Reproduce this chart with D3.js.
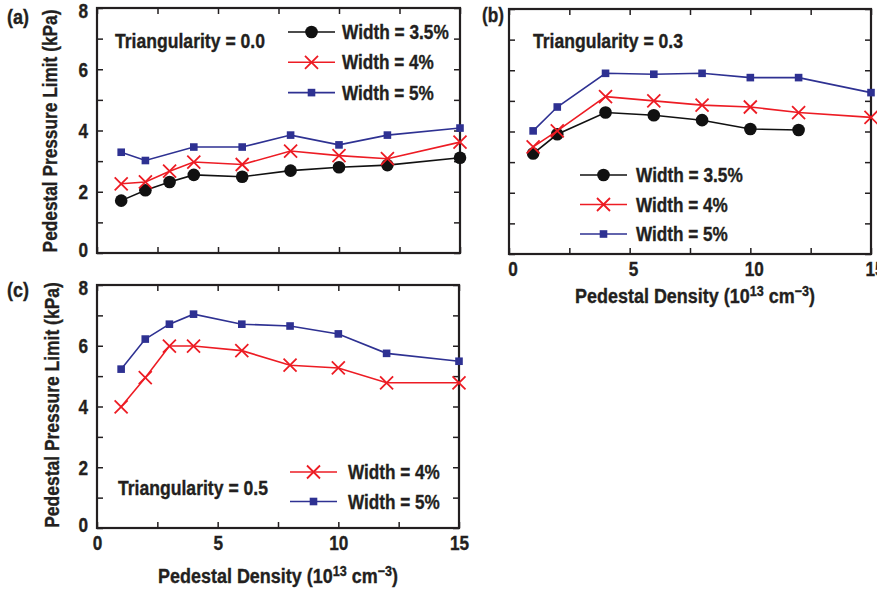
<!DOCTYPE html>
<html>
<head>
<meta charset="utf-8">
<script src="https://cdn.jsdelivr.net/npm/d3@7"></script>
<style>
  html, body { margin: 0; padding: 0; background: #fff; }
  svg { display: block; }
  text { font-family: "Liberation Sans", Arial, sans-serif; font-weight: bold; fill: #231f20; stroke: #231f20; stroke-width: 0.35px; }
</style>
</head>
<body>
<svg id="chart" width="877" height="593"></svg>
<script>
// ---------------- DATA ----------------
const xTicks = [0, 2.5, 5, 7.5, 10, 12.5, 15];
const xTickLabels = ["0", "", "5", "", "10", "", "15"];
const yTicks = [0, 1, 2, 3, 4, 5, 6, 7, 8];
const yTickLabels = ["0", "", "2", "", "4", "", "6", "", "8"];

const seriesNames = ["Width = 3.5%", "Width = 4%", "Width = 5%"];

// Panel (a): Triangularity = 0.0
const a_x35 = [1, 2, 3, 4, 6, 8, 10, 12, 15];
const a_w35 = [1.71, 2.05, 2.32, 2.55, 2.49, 2.69, 2.80, 2.87, 3.11];
const a_x4 = [1, 2, 3, 4, 6, 8, 10, 12, 15];
const a_w4 = [2.26, 2.32, 2.67, 2.97, 2.89, 3.33, 3.18, 3.08, 3.62];
const a_x5 = [1, 2, 4, 6, 8, 10, 12, 15];
const a_w5 = [3.29, 3.02, 3.46, 3.46, 3.85, 3.53, 3.85, 4.08];

// Panel (b): Triangularity = 0.3
const b_x35 = [1, 2, 4, 6, 8, 10, 12];
const b_w35 = [3.28, 3.91, 4.62, 4.53, 4.37, 4.08, 4.05];
const b_x4 = [1, 2, 4, 6, 8, 10, 12, 15];
const b_w4 = [3.50, 4.02, 5.14, 5.00, 4.86, 4.80, 4.62, 4.46];
const b_x5 = [1, 2, 4, 6, 8, 10, 12, 15];
const b_w5 = [4.02, 4.80, 5.90, 5.87, 5.90, 5.76, 5.76, 5.27];

// Panel (c): Triangularity = 0.5
const c_x4 = [1, 2, 3, 4, 6, 8, 10, 12, 15];
const c_w4 = [3.99, 4.95, 5.99, 5.99, 5.84, 5.36, 5.27, 4.78, 4.78];
const c_x5 = [1, 2, 3, 4, 6, 8, 10, 12, 15];
const c_w5 = [5.23, 6.22, 6.71, 7.04, 6.71, 6.65, 6.39, 5.75, 5.49];

const yTitle = "Pedestal Pressure Limit (kPa)";
const panelLabels = ["(a)", "(b)", "(c)"];
const triLabels = ["Triangularity = 0.0", "Triangularity = 0.3", "Triangularity = 0.5"];

// ---------------- STYLE ----------------
const colors = { w35: "#111111", w4: "#ed1c24", w5: "#2e3192" };
const markerType = { w35: "circle", w4: "cross", w5: "square" };
const frameColor = "#231f20";
const NARROW = 0.86;

const svg = d3.select("#chart");

function condense(t, s) {
  const ax = +t.attr("x") || 0;
  t.attr("transform", `translate(${ax},0) scale(${s},1) translate(${-ax},0)`);
}
function fitWidth(t, w) {
  const bw = t.node().getBBox().width;
  condense(t, w / bw);
}

function drawMarker(g, type, cx, cy, color) {
  if (type === "circle") {
    g.append("circle").attr("cx", cx).attr("cy", cy).attr("r", 6.3).attr("fill", color);
  } else if (type === "square") {
    g.append("rect").attr("x", cx - 3.8).attr("y", cy - 3.8).attr("width", 7.6).attr("height", 7.6).attr("fill", color);
  } else {
    const s = 6.5;
    g.append("path").attr("d", `M${cx - s},${cy - s}L${cx + s},${cy + s}M${cx - s},${cy + s}L${cx + s},${cy - s}`)
      .attr("stroke", color).attr("stroke-width", 1.8).attr("fill", "none");
  }
}

function drawPanel(cfg) {
  const g = svg.append("g");
  const x = d3.scaleLinear().domain([0, 15]).range([cfg.left, cfg.right]);
  const y = d3.scaleLinear().domain([0, 8]).range([cfg.bottom, cfg.top]);
  const tk = 6;

  const bx = g.append("g").attr("transform", `translate(0,${cfg.bottom})`)
    .call(d3.axisBottom(x).tickValues(xTicks).tickSize(-tk).tickPadding(8)
      .tickFormat((d, i) => cfg.xLabels ? xTickLabels[i] : ""));
  const tx = g.append("g").attr("transform", `translate(0,${cfg.top})`)
    .call(d3.axisTop(x).tickValues(xTicks).tickSize(-tk).tickFormat(""));
  const ly = g.append("g").attr("transform", `translate(${cfg.left},0)`)
    .call(d3.axisLeft(y).tickValues(yTicks).tickSize(-tk).tickPadding(9)
      .tickFormat((d, i) => cfg.yLabels ? yTickLabels[i] : ""));
  const ry = g.append("g").attr("transform", `translate(${cfg.right},0)`)
    .call(d3.axisRight(y).tickValues(yTicks).tickSize(-tk).tickFormat(""));

  [bx, tx, ly, ry].forEach(a => {
    a.attr("font-family", null).attr("font-size", null);
    a.select(".domain").remove();
    a.selectAll("line").attr("stroke", frameColor).attr("stroke-width", 1.5);
    a.selectAll("text").attr("fill", frameColor).attr("font-size", 20);
  });
  bx.selectAll("text").attr("dx", cfg.xLabelDx || 0).each(function () { condense(d3.select(this), NARROW); });
  ly.selectAll("text")
    .attr("dy", d => d === 8 ? "0.48em" : (d === 0 ? "0.15em" : "0.36em"))
    .each(function () { condense(d3.select(this), NARROW); });

  g.append("rect").attr("x", cfg.left).attr("y", cfg.top)
    .attr("width", cfg.right - cfg.left).attr("height", cfg.bottom - cfg.top)
    .attr("fill", "none").attr("stroke", frameColor).attr("stroke-width", 2.2);

  const line = d3.line().x(d => x(d[0])).y(d => y(d[1]));
  cfg.series.forEach(s => {
    const pts = s.xs.map((xv, i) => [xv, s.ys[i]]);
    g.append("path").datum(pts).attr("d", line).attr("fill", "none")
      .attr("stroke", colors[s.key]).attr("stroke-width", 1.6);
    pts.forEach(p => drawMarker(g, markerType[s.key], x(p[0]), y(p[1]), colors[s.key]));
  });

  cfg.series.forEach((s, i) => {
    const ly0 = cfg.legend.y + i * cfg.legend.dy;
    g.append("line").attr("x1", cfg.legend.x).attr("x2", cfg.legend.x + 47)
      .attr("y1", ly0).attr("y2", ly0).attr("stroke", colors[s.key]).attr("stroke-width", 1.6);
    drawMarker(g, markerType[s.key], cfg.legend.x + 23.5, ly0, colors[s.key]);
    const t = g.append("text").attr("x", cfg.legend.x + cfg.legend.tx).attr("y", ly0).attr("dy", "0.36em")
      .attr("font-size", 20).text(seriesNames[s.nameIdx]);
    fitWidth(t, s.nameIdx === 0 ? 107 : 92);
  });

  const tri = g.append("text").attr("x", cfg.tri.x).attr("y", cfg.tri.y).attr("dy", "0.36em")
    .attr("font-size", 20).text(triLabels[cfg.idx]);
  fitWidth(tri, 150);

  const pl = g.append("text").attr("x", cfg.pl.x).attr("y", cfg.pl.y).attr("dy", "0.36em")
    .attr("font-size", 20).text(panelLabels[cfg.idx]);
  fitWidth(pl, 22);

  if (cfg.yTitle) {
    const t = g.append("text").attr("text-anchor", "middle").attr("dy", "0.36em")
      .attr("font-size", 20).text(yTitle);
    const bw = t.node().getBBox().width;
    t.attr("transform", `translate(${cfg.yTitle.x},${cfg.yTitle.y}) rotate(-90) scale(${cfg.yTitle.w / bw},1)`);
  }
  if (cfg.xTitle) {
    const t = g.append("text").attr("x", cfg.xTitle.x).attr("y", cfg.xTitle.y)
      .attr("text-anchor", "middle").attr("font-size", 20);
    t.append("tspan").text("Pedestal Density (10");
    t.append("tspan").attr("dy", -7).attr("font-size", 14).text("13");
    t.append("tspan").attr("dy", 7).text(" cm");
    t.append("tspan").attr("dy", -7).attr("font-size", 14).text("\u22123");
    t.append("tspan").attr("dy", 7).text(")");
    fitWidth(t, 240);
  }
}

drawPanel({
  idx: 0, left: 97, right: 460, top: 8, bottom: 253,
  xLabels: false, yLabels: true,
  series: [
    { key: "w35", nameIdx: 0, xs: a_x35, ys: a_w35 },
    { key: "w4", nameIdx: 1, xs: a_x4, ys: a_w4 },
    { key: "w5", nameIdx: 2, xs: a_x5, ys: a_w5 }
  ],
  legend: { x: 288, y: 32, dy: 30.3, tx: 54 },
  tri: { x: 115, y: 41 },
  pl: { x: 7, y: 17 },
  yTitle: { x: 50, y: 131, w: 243 }
});

drawPanel({
  idx: 1, left: 509, right: 871, top: 9, bottom: 254,
  xLabels: true, yLabels: false, xLabelDx: 4,
  series: [
    { key: "w35", nameIdx: 0, xs: b_x35, ys: b_w35 },
    { key: "w4", nameIdx: 1, xs: b_x4, ys: b_w4 },
    { key: "w5", nameIdx: 2, xs: b_x5, ys: b_w5 }
  ],
  legend: { x: 580, y: 175, dy: 29.5, tx: 56 },
  tri: { x: 533, y: 41 },
  pl: { x: 482, y: 15 },
  xTitle: { x: 695, y: 303 }
});

drawPanel({
  idx: 2, left: 97, right: 459, top: 285, bottom: 528,
  xLabels: true, yLabels: true,
  series: [
    { key: "w4", nameIdx: 1, xs: c_x4, ys: c_w4 },
    { key: "w5", nameIdx: 2, xs: c_x5, ys: c_w5 }
  ],
  legend: { x: 290, y: 472, dy: 29.5, tx: 58 },
  tri: { x: 118, y: 488 },
  pl: { x: 7, y: 290 },
  yTitle: { x: 52, y: 405, w: 246 },
  xTitle: { x: 278, y: 583 }
});
</script>
</body>
</html>
